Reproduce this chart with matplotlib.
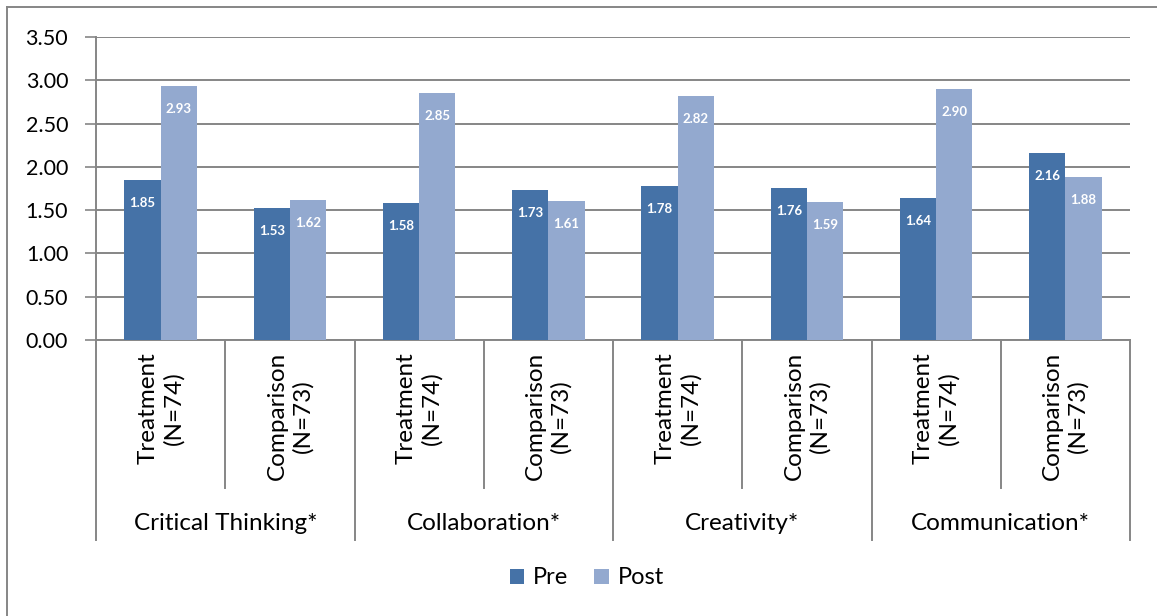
import numpy as np
import matplotlib
matplotlib.use('Agg')
import matplotlib.pyplot as plt
from matplotlib.lines import Line2D

plt.rcParams['font.family'] = ['Lato', 'DejaVu Sans']

skills = ['Critical Thinking*', 'Collaboration*', 'Creativity*', 'Communication*']
groups = ['Treatment\n(N=74)', 'Comparison\n(N=73)']
pre = [1.85, 1.53, 1.58, 1.73, 1.78, 1.76, 1.64, 2.16]
post = [2.93, 1.62, 2.85, 1.61, 2.82, 1.59, 2.90, 1.88]
series = ['Pre', 'Post']
yticks = [0.0, 0.5, 1.0, 1.5, 2.0, 2.5, 3.0, 3.5]

pre_color = '#4572A7'
post_color = '#93A9CF'
grid_color = '#868686'

W, H = 1157, 616
fig = plt.figure(figsize=(W / 100, H / 100), dpi=100)
ax = fig.add_axes([96 / W, (H - 340) / H, (1130 - 96) / W, (340 - 37) / H])

n = len(pre)
x = np.arange(n)
bw = 0.28
b1 = ax.bar(x - bw / 2, pre, bw, color=pre_color, label=series[0], zorder=3)
b2 = ax.bar(x + bw / 2, post, bw, color=post_color, label=series[1], zorder=3)

for bars, vals in ((b1, pre), (b2, post)):
    for rect, v in zip(bars, vals):
        ax.annotate(f'{v:.2f}', xy=(rect.get_x() + rect.get_width() / 2, v),
                    xytext=(0, -23), textcoords='offset pixels',
                    ha='center', va='center', color='white',
                    fontsize=9.5, fontweight='bold', zorder=4)

ax.set_xlim(-0.5, n - 0.5)
ax.set_ylim(0, 3.5)
ax.set_yticks(yticks)
ax.set_yticklabels([f'{t:.2f}' for t in yticks], fontsize=15.5)
ax.tick_params(axis='y', direction='out', length=8, width=1.2, color=grid_color, pad=12)
ax.tick_params(axis='x', length=0, labelbottom=False)
ax.yaxis.grid(True, color=grid_color, lw=1.4, zorder=0)
ax.set_axisbelow(True)
for s in ['top', 'right']:
    ax.spines[s].set_visible(False)
for s in ['left', 'bottom']:
    ax.spines[s].set_color(grid_color)
    ax.spines[s].set_linewidth(1.4)

# multi-level category axis
trans = ax.get_xaxis_transform()
inner_bottom = -(488 - 340) / (340 - 37)
outer_bottom = -(540 - 340) / (340 - 37)
for i in range(n + 1):
    xb = i - 0.5
    yb = outer_bottom if i % 2 == 0 else inner_bottom
    ax.add_line(Line2D([xb, xb], [0, yb], transform=trans, color=grid_color,
                       lw=1.4, clip_on=False))
lab_top = -(352 - 340) / (340 - 37)
for i in range(n):
    ax.text(i, lab_top, groups[i % 2], transform=trans, rotation=90,
            ha='center', va='top', fontsize=17.5, linespacing=1.25,
            multialignment='center')
grp_y = -(523 - 340) / (340 - 37)
for j, sk in enumerate(skills):
    ax.text(2 * j + 0.5, grp_y, sk, transform=trans, ha='center', va='center',
            fontsize=17.5)

# chart frame (cropped)
fig.add_artist(Line2D([7 / W, 7 / W], [0, 1 - 7 / H], transform=fig.transFigure,
                      color=grid_color, lw=1.4))
fig.add_artist(Line2D([7 / W, 1], [1 - 7 / H, 1 - 7 / H], transform=fig.transFigure,
                      color=grid_color, lw=1.4))

# title, mostly above the visible area
fig.text(0.5, 1 + 4.5 / H, 'Mean Ratings of Student Learning, Pre and Post, by Study, Group',
         ha='center', va='baseline', color='#17375E', fontsize=15, fontweight='bold')

leg = ax.legend(loc='center', bbox_to_anchor=(587 / W, 1 - 578 / H),
                bbox_transform=fig.transFigure, ncol=2, frameon=False,
                fontsize=17, handlelength=0.6, handleheight=0.6,
                handletextpad=0.4, columnspacing=1.1)

fig.savefig('out.png', dpi=100)
